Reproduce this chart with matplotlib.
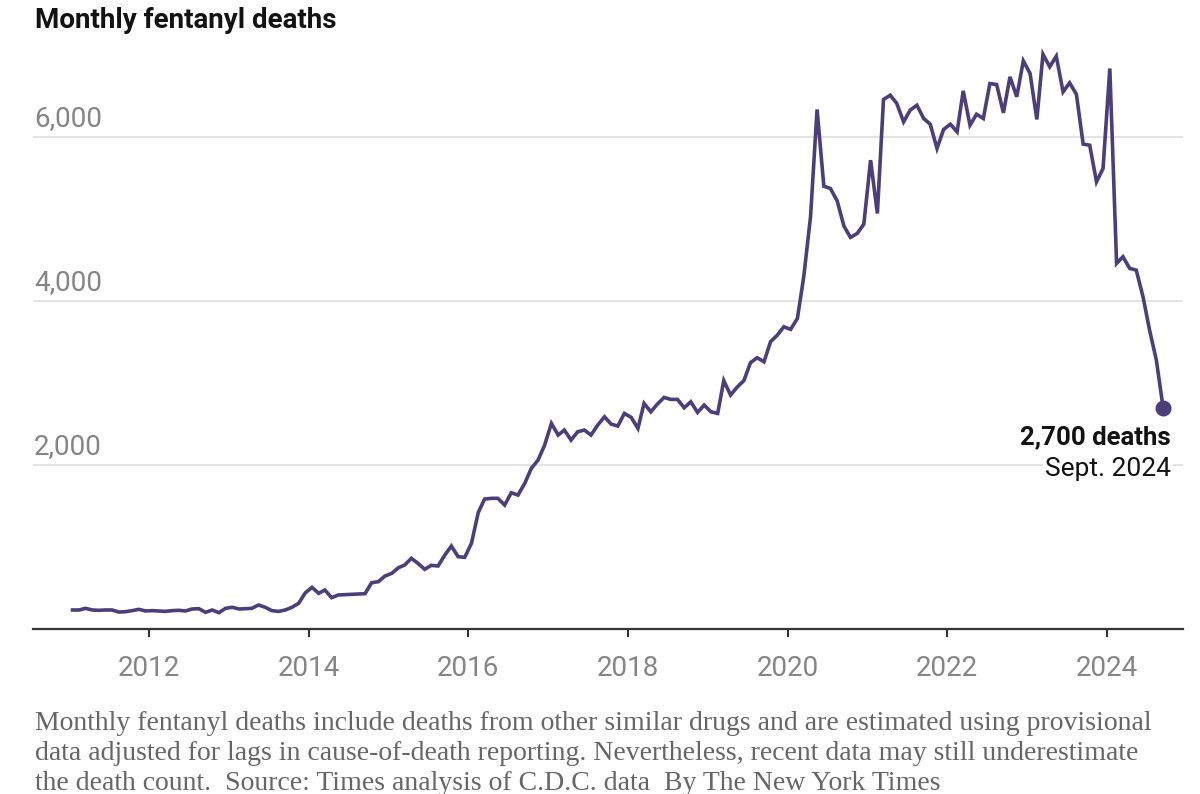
import numpy as np
import pandas as pd
import matplotlib
matplotlib.use("Agg")
import matplotlib.pyplot as plt
import matplotlib.dates as mdates
import matplotlib.transforms as mtransforms

# monthly deaths, Jan 2011 .. Sept 2024
deaths_2011 = [232, 232, 252, 232, 228, 232, 232, 207, 211, 224, 240, 220]
deaths_2012 = [224, 220, 215, 224, 228, 220, 244, 248, 203, 232, 199, 252]
deaths_2013 = [265, 244, 248, 252, 293, 265, 224, 215, 232, 265, 313, 440]
deaths_2014 = [508, 435, 476, 382, 415, 419, 423, 427, 431, 565, 577, 646]
deaths_2015 = [679, 748, 780, 862, 801, 728, 777, 768, 902, 1012, 882, 874]
deaths_2016 = [1045, 1420, 1585, 1594, 1594, 1512, 1662, 1634, 1777, 1960, 2061, 2244]
deaths_2017 = [2508, 2366, 2427, 2305, 2406, 2427, 2366, 2488, 2589, 2500, 2476, 2630]
deaths_2018 = [2582, 2447, 2752, 2650, 2744, 2825, 2801, 2801, 2699, 2772, 2642, 2732]
deaths_2019 = [2650, 2630, 3030, 2854, 2950, 3030, 3248, 3309, 3260, 3504, 3585, 3687]
deaths_2020 = [3655, 3789, 4297, 5028, 6338, 5402, 5374, 5223, 4915, 4777, 4826, 4939]
deaths_2021 = [5720, 5069, 6460, 6512, 6411, 6187, 6329, 6390, 6228, 6158, 5862, 6094]
deaths_2022 = [6158, 6065, 6565, 6146, 6280, 6228, 6654, 6642, 6297, 6736, 6492, 6931]
deaths_2023 = [6777, 6216, 7012, 6858, 6988, 6553, 6663, 6524, 5915, 5902, 5455, 5618]
deaths_2024 = [6838, 4460, 4541, 4399, 4378, 4053, 3646, 3280, 2700]

deaths = (deaths_2011 + deaths_2012 + deaths_2013 + deaths_2014 + deaths_2015
          + deaths_2016 + deaths_2017 + deaths_2018 + deaths_2019 + deaths_2020
          + deaths_2021 + deaths_2022 + deaths_2023 + deaths_2024)
months = pd.date_range("2011-01-01", periods=len(deaths), freq="MS") + pd.Timedelta(days=14)

y_ticks = [2000, 4000, 6000]
x_ticks = [2012, 2014, 2016, 2018, 2020, 2022, 2024]

title = "Monthly fentanyl deaths"
end_label = "2,700 deaths"
end_date = "Sept. 2024"
note_lines = [
    "Monthly fentanyl deaths include deaths from other similar drugs and are estimated using provisional",
    "data adjusted for lags in cause-of-death reporting. Nevertheless, recent data may still underestimate",
    "the death count.  Source: Times analysis of C.D.C. data  By The New York Times",
]

plt.rcParams["font.family"] = ["Roboto", "DejaVu Sans"]

line_color = "#4b3f7b"
W, H = 1200, 794
fig = plt.figure(figsize=(W / 100, H / 100), dpi=100)

ax_l, ax_r, ax_b, ax_t = 33, 1183, 629, 47
ax = fig.add_axes([ax_l / W, (H - ax_b) / H, (ax_r - ax_l) / W, (ax_b - ax_t) / H])

ax.plot(months, deaths, color=line_color, lw=2.6, solid_joinstyle="miter", zorder=3)
ax.plot(months[-1], deaths[-1], "o", color=line_color, ms=10.5, zorder=4)

ax.set_ylim(0, 7100)
ax.set_xlim(pd.Timestamp("2010-07-18"), pd.Timestamp("2024-12-15"))

for s in ["top", "right", "left"]:
    ax.spines[s].set_visible(False)
ax.spines["bottom"].set_color("#333333")
ax.spines["bottom"].set_linewidth(1.6)

ax.set_yticks(y_ticks)
ax.set_yticklabels([])
ax.tick_params(axis="y", length=0)
ax.grid(axis="y", color="#dddddd", lw=1.1)
ax.set_axisbelow(True)

tick_size = 20
ax.set_xticks([pd.Timestamp(f"{y}-01-01") for y in x_ticks])
ax.xaxis.set_major_formatter(mdates.DateFormatter("%Y"))
ax.tick_params(axis="x", length=5.5, width=1.5, color="#333333", pad=13,
               labelsize=tick_size, labelcolor="#858585")

# y labels sit above the gridlines, left aligned
trans = mtransforms.blended_transform_factory(fig.transFigure, ax.transData)
for v in y_ticks:
    ax.text(34 / W, v + 65, f"{v:,}", transform=trans, ha="left", va="bottom",
            fontsize=tick_size, color="#858585")

fig.text(35 / W, 1 - 28 / H, title, ha="left", va="baseline",
         fontsize=20, fontweight="bold", color="#121212")

# end label
fig.text(1171 / W, 1 - 444 / H, end_label, ha="right", va="baseline",
         fontsize=18.5, fontweight="bold", color="#121212")
fig.text(1171 / W, 1 - 476 / H, end_date, ha="right", va="baseline",
         fontsize=19, color="#121212",
         bbox=dict(facecolor="white", edgecolor="none", pad=1.5))

for i, line in enumerate(note_lines):
    fig.text(35 / W, 1 - (730 + 30 * i) / H, line, ha="left", va="baseline",
             family="Liberation Serif", fontsize=20, color="#666666")

fig.savefig("out.png", dpi=100)
